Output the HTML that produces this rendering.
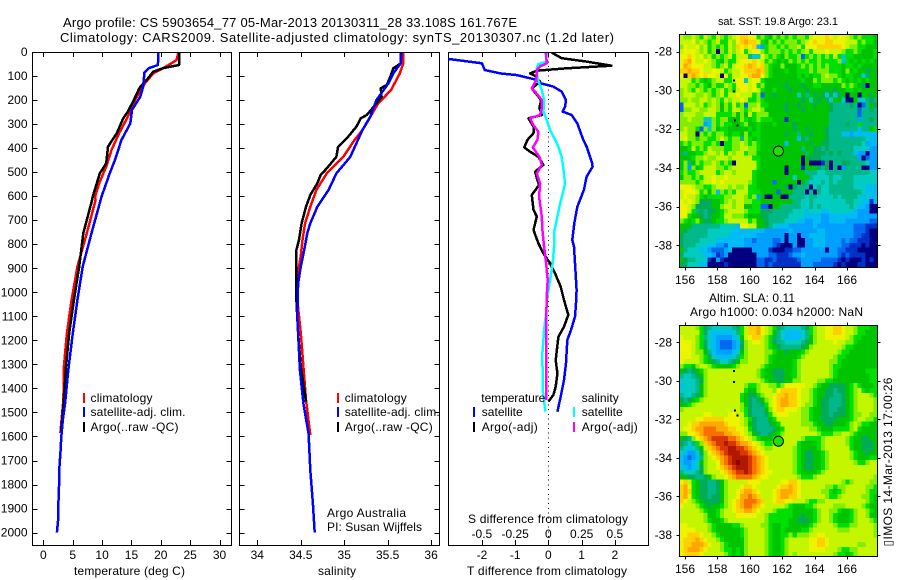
<!DOCTYPE html>
<html>
<head>
<meta charset="utf-8">
<title>Argo profile chart</title>
<style>
html,body{margin:0;padding:0;background:#fff;}
svg{display:block;}
text{font-family:"Liberation Sans",sans-serif;font-size:12px;fill:#000;}
.t13{font-size:13px;}
.t11{font-size:11px;}
</style>
</head>
<body>
<svg id="chart" xmlns="http://www.w3.org/2000/svg" width="900" height="580" viewBox="0 0 900 580">
<rect x="0" y="0" width="900" height="580" fill="#fff"/>
<text class="t13" x="63" y="27" textLength="454" lengthAdjust="spacing">Argo profile: CS 5903654_77 05-Mar-2013 20130311_28 33.108S 161.767E</text>
<text class="t13" x="60" y="42" textLength="554" lengthAdjust="spacing">Climatology: CARS2009. Satellite-adjusted climatology: synTS_20130307.nc (1.2d later)</text>
<g id="layer"></g>
<text x="74" y="575" textLength="111" lengthAdjust="spacing">temperature (deg C)</text>
<text x="318" y="575" textLength="38" lengthAdjust="spacing">salinity</text>
<text x="467" y="575" textLength="160" lengthAdjust="spacing">T difference from climatology</text>
<text x="468" y="523" textLength="160" lengthAdjust="spacing">S difference from climatology</text>
<text x="327" y="517" textLength="79" lengthAdjust="spacing">Argo Australia</text>
<text x="327" y="531" textLength="95" lengthAdjust="spacing">PI: Susan Wijffels</text>
<text class="t11" x="718" y="25" textLength="120" lengthAdjust="spacing">sat. SST: 19.8  Argo: 23.1</text>
<text x="709" y="302" textLength="86" lengthAdjust="spacing">Altim. SLA: 0.11</text>
<text x="690" y="316" textLength="173" lengthAdjust="spacing">Argo h1000: 0.034 h2000: NaN</text>
<text transform="translate(892 546.5) rotate(-90)" textLength="169" lengthAdjust="spacing">▯IMOS 14-Mar-2013 17:00:26</text>
</svg>
<script>
// Temperature panel values
const tempClimDepth=[0,33,47,68,89,130,200,269,338,408,477,546,602,616,754,893,1032,1170,1309,1448,1585];
const tempClim=[23,22.7,21.8,20.4,18.7,17.3,15.6,14.4,12.9,11.6,10.7,9.5,8.8,8.9,7.4,5.8,4.8,4,3.5,3.4,2.9];
const tempArgoDepth=[0,54,67,82,116,144,158,200,248,276,338,394,463,505,602,616,754,893,1032,1170,1309,1448,1580];
const tempArgo=[23.1,23.1,20.4,18.7,17.6,16.5,16.2,15.4,14.4,13.6,12.5,11,10.7,9.6,8.4,8.3,6.8,6.1,5.2,4.4,3.85,3.5,3];
const tempSatDepth=[0,54,68,86,144,186,241,297,366,449,505,602,754,893,1032,1170,1323,1462,1532,1601,1670,1740,1810,1879,1948,2000];
const tempSat=[19.6,19.5,17.9,17.2,17,16.5,15.1,14.8,13.3,12.2,11.3,9.9,8.2,6.7,5.8,5,4.25,3.7,3.3,3.05,2.9,2.7,2.65,2.55,2.5,2.3];
// Salinity panel values
const salClimDepth=[0,47,89,158,214,283,325,366,436,505,574,644,713,782,849,893,1032,1100,1170,1309,1448,1594];
const salClim=[35.68,35.68,35.64,35.54,35.39,35.28,35.21,35.12,34.99,34.8,34.68,34.61,34.55,34.52,34.5,34.48,34.46,34.48,34.5,34.53,34.56,34.61];
const salArgoDepth=[0,47,68,103,137,151,186,214,262,276,311,359,394,436,484,512,547,595,644,713,782,824,1032,1170,1309,1455];
const salArgo=[35.65,35.65,35.565,35.53,35.49,35.42,35.43,35.37,35.26,35.19,35.14,35.03,34.93,34.91,34.8,34.73,34.69,34.61,34.56,34.51,34.48,34.45,34.45,34.47,34.5,34.56];
const salSatDepth=[0,47,89,130,200,269,325,380,436,505,574,644,713,754,824,893,963,1100,1170,1323,1462,1590,1740,1879,2000];
const salSat=[35.66,35.65,35.565,35.51,35.37,35.3,35.21,35.14,35.07,34.91,34.82,34.69,34.61,34.575,34.54,34.5,34.47,34.46,34.47,34.49,34.53,34.59,34.61,34.64,34.66];
// Difference panel values
const diffTSatDepth=[29,47,75,89,96,116,130,144,165,200,228,248,262,297,366,394,463,477,519,574,644,713,782,810,879,990,1046,1101,1157,1199,1295,1365,1434,1497];
const diffTSat=[-3,-2,-1.92,-1.45,-0.95,-0.35,-0.25,0.15,0.4,0.53,0.5,0.43,0.7,0.87,1.05,1.15,1.32,1.33,1.15,1.07,0.87,0.78,0.72,0.77,0.8,0.85,0.83,0.8,0.68,0.57,0.53,0.47,0.37,0.27];
const diffTArgoDepth=[0,5,26,40,57,68,78,89,100,124,151,200,234,262,276,311,338,366,397,415,436,470,498,533,553,595,657,685,741,796,838,879,921,977,1032,1094,1143,1185,1282,1337,1393,1427,1455];
const diffTArgo=[0.1,0.13,0.4,1.15,1.9,0.55,-0.35,-0.55,-0.4,-0.25,-0.5,-0.22,-0.27,-0.2,-0.6,-0.45,-0.45,-0.63,-0.73,-0.55,-0.3,-0.15,-0.4,-0.33,-0.28,-0.5,-0.45,-0.35,-0.45,-0.3,-0.15,0.05,0.2,0.37,0.47,0.6,0.47,0.3,0.22,0.27,0.22,0.15,0];
const diffSSatDepth=[0,40,50,68,103,130,158,200,248,283,325,366,394,436,505,547,589,644,699,741,782,810,879,949,1018,1087,1157,1254,1406,1497];
const diffSSat=[-0.025,-0.0125,-0.075,-0.0875,-0.0825,-0.07,-0.05,-0.0325,-0.0375,-0.0125,0.0125,0.05,0.075,0.1,0.1175,0.125,0.1075,0.0825,0.0625,0.045,0.045,0.0425,0.0325,0.0125,-0.0075,-0.0175,-0.0325,-0.045,-0.0425,-0.0225];
const diffSArgoDepth=[0,47,60,75,116,151,165,200,234,262,276,304,332,366,397,436,470,505,547,602,685,741,810,879,949,1018,1157,1295,1448];
const diffSArgo=[-0.0175,-0.0125,-0.0625,-0.0875,-0.09,-0.125,-0.1,-0.05,-0.05,-0.0625,-0.1375,-0.1125,-0.075,-0.0825,-0.1175,-0.0675,-0.05,-0.0875,-0.0625,-0.07,-0.05,-0.045,-0.0325,-0.0175,-0.005,-0.0125,-0.0175,-0.0175,-0.0175];
// Tick labels
const depthTicks=[0,100,200,300,400,500,600,700,800,900,1000,1100,1200,1300,1400,1500,1600,1700,1800,1900,2000];
const tempTicks=[0,5,10,15,20,25,30];
const salTicks=[34,34.5,35,35.5,36];
const tDiffTicks=[-2,-1,0,1,2];
const sDiffTicks=[-0.5,-0.25,0,0.25,0.5];
const lonTicks=[156,158,160,162,164,166];
const latTicks=[-28,-30,-32,-34,-36,-38];
// Float track positions
const trackLon=[159,159,159.05,159.2];
const trackLat=[-29.5,-30.05,-31.55,-31.8];
const argoLon=[161.767];
const argoLat=[-33.108];
// Map values: each character is a colour level on the shared scale
const sstRows=[
"baaba9b a9ba9ab cddcc9a 98a9a9a 9aa9bcc cdcbccb a9a9998",
"bbbcaba 9ab99ba cdeddc9 8a9a9aa a9abcdc cddcccb bb9a998",
"acbbcab 9a9a9ba dcdcd43 9aa9a9a ab9cccd dddddcb aa99888",
"bcccbab 9a0a9ba bc9bcca 9aaa9a9 a9ab9bb bcbbba9 9a98889",
"ccdcbca b9a9ab9 bbb655c a9a98a9 9a29a9a 9a9b959 9888889",
"cdecbbc ba98a99 bcccdcb 9a9898a 9a9a99a 9999a49 8989898",
"cedcccb ba9ab9b ccdedcd a988a88 89a9a9a 9a99989 9898888",
"ddeddcb bccb9ab bcddded a988898 8999a9a aa9998a 8988788",
"c0dedcd ccb0c9b bccdeec a988888 8989899 abaa989 9885788",
"bbb9a98 9abb99b cc5bcc9 8888888 88988a9 aaa9a98 9898988",
"bbaa9a9 8a99ba9 cccbc9a 8888878 8878899 88888a9 a987088",
"aba9ba9 a9ab9a9 bccbcb9 8898887 8887888 8787889 9898888",
"abbbaab a9ab9bb cbbb9a2 8878888 8586878 7575780 8808878",
"aabaabb aba9bab bcb99a9 8888888 8878587 8758850 0855676",
"2bbbab9 aba8a9b 9a2aab9 9888878 8788878 8876666 7602687",
"2aabbaa bba8a9b ba9abba 8888878 8878888 8876666 6626676",
"abbbaab bb9999a 8a8b9aa a888888 8888888 8866666 6626666",
"aabaaa5 5a9aa88 8a989a9 9988818 8888888 8866666 6636676",
"aaaaaa3 4a9a998 89a8898 8898888 7888888 8866667 6696666",
"abaa92a 5a89988 8889898 8888888 7887888 8766666 6646689",
"bbaa0a9 a9aa989 98a8998 8888878 8688788 8766644 3444444",
"bcaa9aa 99aba9a a6a9898 8888888 8476888 8766666 6666544",
"9a9aaa9 9a9099a aba9a98 8888848 8888788 7766666 6665344",
"889b9a9 baaa99a abbaa98 8888888 8868877 6766666 6555533",
"868899a bbab9ba bb9aa88 8888888 8886877 7676766 6433033",
"8889aab aabbbab bbbb998 8888888 8808777 6666666 6630233",
"8a68a9a aba9a90 bbbbb98 8888888 8808000 1706677 6666533",
"8a3a89b bbaa9ab bbbbb98 8888808 8818887 6706036 6660033",
"9a99abb bb9abba bbbb988 8888808 8886665 5666666 6666655",
"8aa9a9b bcbbcbb bbbb988 8888888 5888655 5565566 6555555",
"aaaa9ab bcbcbbb bbba988 8828888 8086555 6565666 6555555",
"cccbaa9 9abbbab aab9988 8888870 7666056 5566666 6555444",
"bcccb9a 8a4a9a9 bbb9998 8882888 6660606 5566666 6665444",
"bcbba98 9999aab bba9a38 0088006 6665665 5556566 6654544",
"cbcba77 7889aba bbaa998 8888888 6655655 5555556 6554414",
"ccba777 788abba bb88992 2088666 6655656 5555555 6544300",
"ccb9676 7789abb bba9997 7766666 5554555 4455555 5433300",
"cc98876 7889bba aa98887 7666665 5554444 3344444 4433333",
"a989a87 7899abb bbb9a88 7666655 5443344 3344443 3333322",
"8886666 6665555 4ccbb88 7654443 3333343 3333333 3222111",
"8766666 5555554 4444444 3333334 3333334 4333333 3222100",
"7666666 5555544 4444433 3333303 3033444 4333333 3221100",
"7666655 5544444 4433233 3322303 3003344 4333323 2211100",
"7666555 4433244 4433333 3321000 3003344 4333322 1110100",
"8655544 3222340 0000333 3100011 2233333 3033221 1100000",
"7555554 4312300 0000033 3221112 3343333 3333212 1111000",
"8766555 1031000 0000022 1121111 1233333 2222101 0001010",
"7755544 0000100 0000022 1211111 1133322 2221010 0011000"
];
const slaRows=[
"bbbba97 6555556 79bddec ba97655 55679ab bccddcb ba99988",
"bbbbb97 5444445 69bddec ba86544 44569ab bccddcb ba99888",
"cbbba96 5433334 58bcddb a976544 44568ab bcccccb a998888",
"cccba97 5432223 47abccb a976655 55678ab bbbcbba a988888",
"cccba97 5432223 47abbbb a987666 6678abb bbbbba9 9888888",
"cccbaa8 6433334 58abbbb aa98878 889abbb bbbba99 8888888",
"cccbba9 7544445 69abbbb a988888 89abbbb bbba998 8888888",
"cbbbba9 8765567 8aabbbb a988888 9abbbbb bbaa988 8888888",
"a998abb a988889 abbbbba 9888888 9abbbbb bba9988 8888888",
"876789a bbbbbbb bbbbba9 8877788 9abbbbb bba9888 8888999",
"655678a bbbbbbb bbbbba9 8877788 9abbbbb bba9888 8888899",
"555567a bbbbbbb bbbbbba 9887788 aabbbba a998888 8888899",
"455568a bbbbbbb bba99ab baa9acc cccbba9 8877778 9a98889",
"555568a bbbbbbb bb988ab bbacddd dcbba98 8776778 9ab9899",
"655678a bbbbbbb b98779a bbcdded dcbba98 8776678 9abbba9",
"76789ab bbbbbbb b987678 abcdeed dcbba98 7766678 9abbbba",
"889abbb bbbbbbb ba87667 9bcdeed dcbaa98 7766678 9abbbba",
"abbbbbb bbbbbbb ba97666 8acddcc cbaa988 7766778 9abbbba",
"bbbbbbc cbbbbcc bb97666 79bcccb bbaa988 7767778 9aabbaa",
"bbbbccd ddddccc cba9766 689bbbb bbaa988 7777888 9abbaa9",
"bbcddee eeeedcc cba8766 6789bbb bbaaa98 8778889 aba9988",
"bccdeef ffeeedd ccb9766 66789bb bbbbaa9 8889999 ab98888",
"aaccdef ffffeed dcba876 6789abb bbbbbba 999aabb a988888",
"876acde fggggff edcba98 889abbb bba9999 abbbbba 9887788",
"76569ad efgghgg feedcba 99abbbb b988889 abbbbba 9887778",
"654568b defgghh ggfedcb aabbbbb a988889 abbbbbb 9887778",
"543357a cdefghh hggfedc bbbbbbb a987788 9abbbbb a988788",
"432346a bcdefgh hhhgfed cbbbbbb a987788 9abbbbb a988899",
"433458a bbcefgh ihhgfed cbbbbbb a987788 9abbbbb ba99abb",
"543457a bbcdefg hhhgfed cbbbbbb a987788 9abbbbb bbbbbbb",
"655567a bbbcdef gghgfed ccbbbbb a988889 abbbbbb bbbbbbb",
"8877667 8abbcde ffffedc cbbbbbb ba999ab bbbbbbb bbbbbba",
"cdb9877 6678abb bbbcccb bbbbccd dcbbbbb bbbbba9 abbbbaa",
"dec9877 6678abb bcddcbb bbbcdde dcbbbbb baa9aab bbbbaa9",
"ded9877 6678abb cdeedcb bbcdeee dcbbbbb aa989ab bbbba99",
"dec9877 6778abb ceefedb bbcdeed dcbbbbb ba99abb bbbaa98",
"dcba987 7778abc defffed bbcddcc bbba99a abbbbbb bbbba98",
"cbbba98 7889abc deffedc bbbbba9 88899ab bbbaaab bbba988",
"bbbbba9 889abbc ddeedcb bba9999 888889a bbaa988 9abba98",
"bbbbbba 889abbb cccccbb a999999 887889a bba9888 9abba88",
"bbbbbba 9889abb bbbbbbb a999998 877789a bba9888 9abbba9",
"ccbbbbb a988889 9abbbba a988998 88889ab bbba999 aabbbba",
"ccccbbb a988888 89abbbb a988988 8899abb bbbbaaa bbbbbba",
"ccdddcb ba98888 89abbbb a98899a 9aaabbc cbbbbbb bbbbbba",
"cdddedc bba9888 88abbbb a9889ab bbbbccd dcbbbbb bbbbbbb",
"cddeeed cbba988 88abbbb a9889ab bbbbccd dcbbbbb bbaabbb",
"cdeeedc bbba998 98abbbb a9889ab bbbbccc cbbba99 aabbbbb",
"cddddcb bbbba98 98abbbb a9889ab abbbbbb bbba998 9abbbbb"
];

const NS='http://www.w3.org/2000/svg';
const layer=document.getElementById('layer');
function el(tag,attrs,parent){
  const n=document.createElementNS(NS,tag);
  for(const k in attrs){n.setAttribute(k,attrs[k]);}
  (parent||layer).appendChild(n);
  return n;
}
const PALETTE=['#000080','#0030c8','#0068f0','#00a0ff','#00bcf4','#00ccc0','#00b888','#00ac58','#00c400','#00e000','#80ee00','#c4f600','#ecf400','#ffd000','#ffa800','#f87000','#d83800','#b01800','#900000'];
const LEVELS='0123456789abcdefghi';
function levelColor(ch){return PALETTE[LEVELS.indexOf(ch)];}

// Axis functions
function depthY(d){return 52+d*0.2403;}
function tempX(v){return 43.4+v*5.87;}
function salX(v){return 257.3+(v-34)*86.9;}
function tDiffX(v){return 548.4+v*33.2;}
function sDiffX(v){return 548.4+v*133;}
function lonX(v){return 685+(v-156)*16.2;}
function sstLatY(v){return 51.7+(-28-v)*19.36;}
function slaLatY(v){return 342.3+(-28-v)*19.27;}

function frameTicksY(L,R){
  depthTicks.forEach(function(d){
    const y=Math.round(depthY(d))+0.5;
    const a=el('line',{x1:L,x2:L+5,y1:y,y2:y,stroke:'#000','shape-rendering':'crispEdges'});
    
    
    const b=el('line',{x1:R-5,x2:R,y1:y,y2:y,stroke:'#000','shape-rendering':'crispEdges'});
    
    
  });
}
function frameTicksX(vals,fn){
  vals.forEach(function(v){
    const x=Math.round(fn(v))+0.5;
    const a=el('line',{x1:x,x2:x,y1:52,y2:57,stroke:'#000','shape-rendering':'crispEdges'});
    
    
    const b=el('line',{x1:x,x2:x,y1:540,y2:545,stroke:'#000','shape-rendering':'crispEdges'});
    
    
  });
}
function xLabels(vals,fn,y,fmt){
  vals.forEach(function(v){
    const t=el('text',{x:fn(v),y:y,'text-anchor':'middle'});
    t.textContent=fmt?fmt(v):String(v);
    
    
  });
}
function series(depths,vals,fn,color,name,clip){
  const pts=depths.map(function(d,i){return fn(vals[i]).toFixed(1)+','+depthY(d).toFixed(1);}).join(' ');
  const attrs={points:pts,fill:'none',stroke:color,'stroke-width':2.5,'stroke-linejoin':'round','shape-rendering':'crispEdges'};
  if(clip){attrs['clip-path']='url(#'+clip+')';}
  const p=el('polyline',attrs);
  
  
}
function panelBox(x,w,name){
  const r=el('rect',{x:x,y:52.5,width:w,height:493,fill:'none',stroke:'#000','shape-rendering':'crispEdges'});
  
  
}
function legend(markX,textX,y,color,label,name,width){
  const m=el('rect',{x:markX,y:y,width:2,height:10,fill:color,'shape-rendering':'crispEdges'});
  
  
  const t=el('text',{x:textX,y:y+9,textLength:width,lengthAdjust:'spacing'});
  t.textContent=label;
  
  
}

const defs=el('defs',{});
const cp=el('clipPath',{id:'diffClip'},defs);
el('rect',{x:448.5,y:52,width:200,height:493},cp);

// Temperature panel
series(tempClimDepth,tempClim,tempX,'#ff0000','temperature-climatology-line');
series(tempArgoDepth,tempArgo,tempX,'#000000','temperature-argo-line');
series(tempSatDepth,tempSat,tempX,'#0000ff','temperature-satellite-line');
panelBox(32.5,199,'temperature-panel-frame');
frameTicksY(32.5,231.5);
frameTicksX(tempTicks,tempX);
xLabels(tempTicks,tempX,559);
depthTicks.forEach(function(d){
  const t=el('text',{x:27.5,y:depthY(d)+4,'text-anchor':'end'});
  t.textContent=String(d);
  
  
});
legend(83,90.5,393,'#ff0000','climatology','temperature-legend-climatology',62);
legend(83,90.5,407,'#0000ff','satellite-adj. clim.','temperature-legend-satellite',95);
legend(83,90.5,422,'#000000','Argo(..raw -QC)','temperature-legend-argo',88);

// Salinity panel
series(salClimDepth,salClim,salX,'#ff0000','salinity-climatology-line');
series(salArgoDepth,salArgo,salX,'#000000','salinity-argo-line');
series(salSatDepth,salSat,salX,'#0000ff','salinity-satellite-line');
panelBox(239.5,200,'salinity-panel-frame');
frameTicksY(239.5,439.5);
frameTicksX(salTicks,salX);
xLabels(salTicks,salX,559);
legend(337,344.7,393,'#ff0000','climatology','salinity-legend-climatology',62);
legend(337,344.7,407,'#0000ff','satellite-adj. clim.','salinity-legend-satellite',95);
legend(337,344.7,422,'#000000','Argo(..raw -QC)','salinity-legend-argo',88);

// Difference panel
const zeroLine=el('line',{x1:548.5,x2:548.5,y1:52,y2:545,stroke:'#000','stroke-dasharray':'1 3.7','shape-rendering':'crispEdges'});


series(diffTArgoDepth,diffTArgo,tDiffX,'#000000','t-difference-argo-line','diffClip');
series(diffTSatDepth,diffTSat,tDiffX,'#0000ff','t-difference-satellite-line','diffClip');
series(diffSSatDepth,diffSSat,sDiffX,'#00ffff','s-difference-satellite-line','diffClip');
series(diffSArgoDepth,diffSArgo,sDiffX,'#ff00ff','s-difference-argo-line','diffClip');
panelBox(448.5,200,'difference-panel-frame');
frameTicksX(tDiffTicks,tDiffX);
xLabels(tDiffTicks,tDiffX,559);
xLabels(sDiffTicks,sDiffX,538);
const tHead=el('text',{x:481.3,y:402,textLength:64,lengthAdjust:'spacing'});
tHead.textContent='temperature';


const sHead=el('text',{x:581.7,y:402,textLength:37,lengthAdjust:'spacing'});
sHead.textContent='salinity';


legend(473,481.7,407,'#0000ff','satellite','difference-legend-t-satellite',41);
legend(473,481.7,422,'#000000','Argo(-adj)','difference-legend-t-argo',56);
legend(573,581.7,407,'#00ffff','satellite','difference-legend-s-satellite',41);
legend(573,581.7,422,'#ff00ff','Argo(-adj)','difference-legend-s-argo',56);

// Map panels
const LON0=155.65, CELL=0.25;
function drawMap(rows,latY,top,bottom,lat0,prefix,labelBase){
  const bg=el('rect',{x:679.5,y:top,width:198,height:bottom-top,fill:'#00c400','shape-rendering':'crispEdges'});
  
  
  rows.forEach(function(row,r){
    const chars=row.replace(/ /g,'');
    for(let c=0;c<chars.length;c++){
      const x0=lonX(LON0+c*CELL), x1=lonX(LON0+(c+1)*CELL);
      const y0=latY(lat0-r*CELL), y1=latY(lat0-(r+1)*CELL);
      const cell=el('rect',{x:x0.toFixed(2),y:y0.toFixed(2),width:(x1-x0).toFixed(2),height:(y1-y0).toFixed(2),fill:levelColor(chars[c]),'shape-rendering':'crispEdges'});
      
      
    }
  });
  trackLon.forEach(function(lon,i){
    const m=el('rect',{x:lonX(lon)-0.5,y:latY(trackLat[i])-1,width:2,height:2,fill:'#000','shape-rendering':'crispEdges'});
    
    
  });
  const dot=el('circle',{cx:lonX(argoLon[0]),cy:latY(argoLat[0])+0.5,r:5,fill:'#20e000',stroke:'#000','stroke-width':1});
  
  
  const frame=el('rect',{x:679.5,y:top,width:198,height:bottom-top,fill:'none',stroke:'#000','shape-rendering':'crispEdges'});
  
  
  lonTicks.forEach(function(v){
    const x=Math.round(lonX(v))+0.5;
    const a=el('line',{x1:x,x2:x,y1:top-3,y2:top,stroke:'#000','shape-rendering':'crispEdges'});
    
    
    const b=el('line',{x1:x,x2:x,y1:bottom,y2:bottom+3,stroke:'#000','shape-rendering':'crispEdges'});
    
    
    const t=el('text',{x:lonX(v),y:labelBase,'text-anchor':'middle'});
    t.textContent=String(v);
    
    
  });
  latTicks.forEach(function(v){
    const y=Math.round(latY(v))+0.5;
    const a=el('line',{x1:676.5,x2:679.5,y1:y,y2:y,stroke:'#000','shape-rendering':'crispEdges'});
    
    
    const b=el('line',{x1:877.5,x2:880.5,y1:y,y2:y,stroke:'#000','shape-rendering':'crispEdges'});
    
    
    const t=el('text',{x:672,y:latY(v)+4,'text-anchor':'end'});
    t.textContent=String(v);
    
    
  });
}
drawMap(sstRows,sstLatY,34.5,267.5,-27.12,'sst',284);
drawMap(slaRows,slaLatY,325.5,556.5,-27.12,'sla',573);
</script>
</body>
</html>
